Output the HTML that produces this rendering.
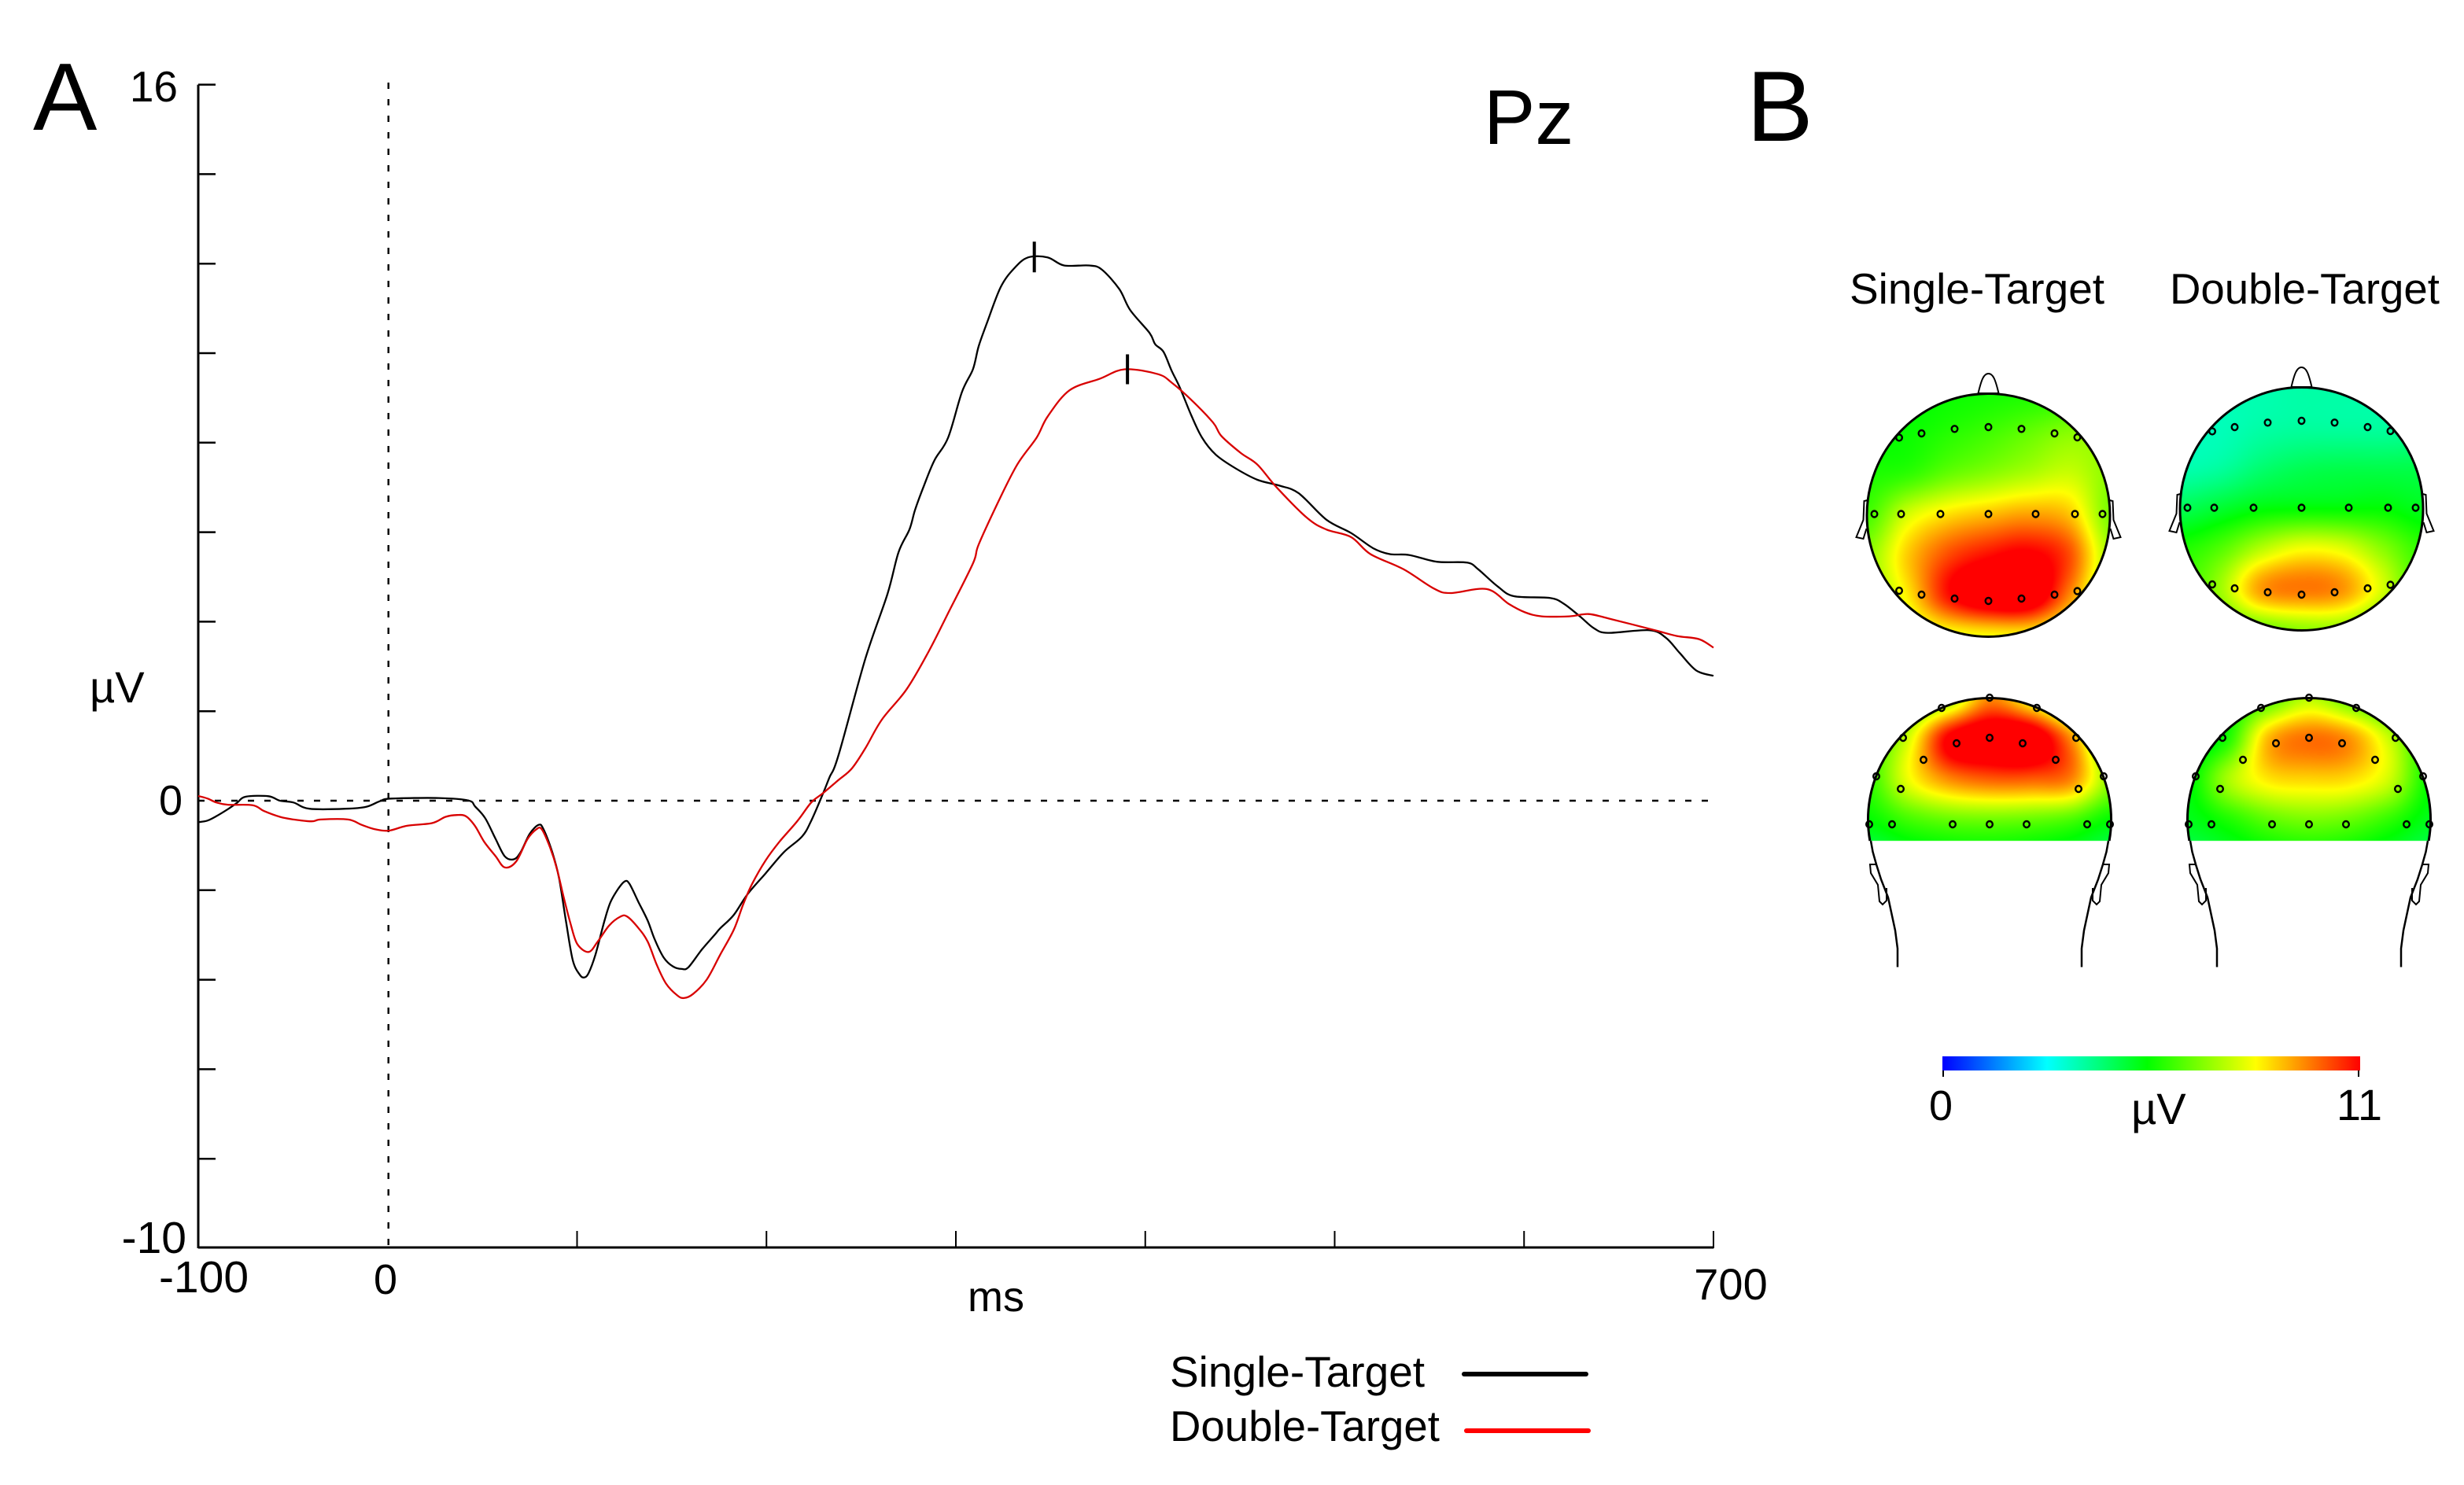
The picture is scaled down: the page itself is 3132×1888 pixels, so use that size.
<!DOCTYPE html>
<html lang="en">
<head>
<meta charset="utf-8">
<title>Pz ERP and topographic maps</title>
<style>
html,body{margin:0;padding:0;background:#fff;}
#stage{position:relative;width:3132px;height:1888px;overflow:hidden;background:#fff;}
canvas{position:absolute;display:block;}
svg{position:absolute;left:0;top:0;}
text{font-family:"Liberation Sans",sans-serif;fill:#000;}
</style>
</head>
<body>
<div id="stage">
<canvas id="map-st-top"></canvas>
<canvas id="map-dt-top"></canvas>
<canvas id="map-st-back"></canvas>
<canvas id="map-dt-back"></canvas>
<svg id="svg" width="3132" height="1888" viewBox="0 0 3132 1888">
  <defs>
    <linearGradient id="jet" x1="0" x2="1" y1="0" y2="0">
      <stop offset="0" stop-color="#0000ff"/>
      <stop offset="0.25" stop-color="#00ffff"/>
      <stop offset="0.49" stop-color="#00ff00"/>
      <stop offset="0.75" stop-color="#ffff00"/>
      <stop offset="1" stop-color="#ff0000"/>
    </linearGradient>
  </defs>
  <text x="42" y="165" font-size="122">A</text>
  <text x="2220" y="179" font-size="127">B</text>
  <text x="1886" y="183" font-size="98">Pz</text>
  <text x="226" y="129" font-size="55" text-anchor="end">16</text>
  <text x="232" y="1036" font-size="54" text-anchor="end">0</text>
  <text x="237" y="1593" font-size="57" text-anchor="end">-10</text>
  <text x="114" y="893" font-size="56">µV</text>
  <text x="259" y="1643" font-size="57" text-anchor="middle">-100</text>
  <text x="490" y="1645" font-size="54" text-anchor="middle">0</text>
  <text x="2200" y="1652" font-size="56" text-anchor="middle">700</text>
  <text x="1230" y="1667" font-size="54">ms</text>
  <text x="1487" y="1763" font-size="55">Single-Target</text>
  <line x1="1861" y1="1747" x2="2016" y2="1747" stroke="#000" stroke-width="6" stroke-linecap="round"/>
  <text x="1487" y="1832" font-size="54.6">Double-Target</text>
  <line x1="1864" y1="1819" x2="2019" y2="1819" stroke="#ff0000" stroke-width="6" stroke-linecap="round"/>
  <text x="2351" y="386" font-size="55">Single-Target</text>
  <text x="2758" y="386" font-size="54.6">Double-Target</text>
  <rect x="2469" y="1343" width="531" height="18" fill="url(#jet)"/>
  <line x1="2470" y1="1361" x2="2470" y2="1369" stroke="#000" stroke-width="2"/>
  <line x1="2998" y1="1361" x2="2998" y2="1369" stroke="#000" stroke-width="2"/>
  <text x="2467" y="1424" font-size="54" text-anchor="middle">0</text>
  <text x="2999" y="1424" font-size="56" text-anchor="middle">11</text>
  <text x="2709" y="1429" font-size="56">µV</text>
  <g id="chart"></g>
  <g id="heads"></g>
</svg>
</div>
<script>
// ---- ERP chart data (ms, µV) ----
const xTickValues = [-100, 0, 100, 200, 300, 400, 500, 600, 700];
const yTickValues = [16, 14, 12, 10, 8, 6, 4, 2, 0, -2, -4, -6, -8, -10];
const timesSingle = [-100,-95.2,-90.4,-84.4,-79.6,-74.9,-62.9,-56.9,-49.7,-41.3,-22.1,-11.3,-4.1,1.8,27,42.6,46.2,51.5,57,61.8,66.6,70.2,75,79.7,82.2,86.9,90.5,94.1,97.7,101.3,103.7,106.1,109.7,114.5,117.6,121.7,125.3,127.7,132.5,137.3,140.9,145.7,150.5,155.3,158.8,166,173.2,175.6,182.8,190,199.6,209.2,218.8,223.6,229.6,233.2,238,252.2,263.9,269.7,275.5,278.4,282.8,288.6,295.9,303.2,309,312,316.3,323.6,330.9,338.2,348.4,357.1,370.3,377,386.3,392.1,402.3,405.2,409.6,414,418.4,424.2,430,437.3,447.5,459.2,470.8,481,495.6,508.7,520.4,529.1,539.3,553.9,569.9,575.8,586,594.7,613.7,621,629.7,637,644.3,666.1,674.9,682.2,690.9,700];
const valuesSingle = [-0.48,-0.445,-0.345,-0.19,-0.05,0.09,0.1,0,-0.04,-0.18,-0.18,-0.135,-0.01,0.047,0.06,0.006,-0.13,-0.39,-0.855,-1.24,-1.31,-1.15,-0.74,-0.54,-0.63,-1.15,-1.73,-2.68,-3.56,-3.88,-3.95,-3.85,-3.44,-2.68,-2.27,-1.97,-1.8,-1.86,-2.27,-2.68,-3.09,-3.5,-3.7,-3.76,-3.72,-3.32,-2.97,-2.85,-2.55,-2.09,-1.62,-1.15,-0.8,-0.45,0.135,0.515,1.01,3.17,4.62,5.55,6.06,6.49,7,7.6,8.11,9.13,9.64,10.15,10.66,11.47,11.9,12.14,12.14,11.96,11.96,11.87,11.43,10.96,10.45,10.2,10.03,9.6,9.22,8.62,8.11,7.73,7.43,7.17,7.04,6.87,6.28,5.98,5.64,5.51,5.49,5.34,5.32,5.17,4.79,4.57,4.53,4.4,4.11,3.85,3.75,3.81,3.64,3.3,2.91,2.79];
const timesDouble = [-100,-95.2,-90.4,-84.4,-71.3,-65.3,-56.9,-49.7,-40.1,-35.3,-20.9,-13.7,-6.5,0.6,10.2,23.4,30.6,36.6,41.4,46.2,51,57,61.8,67.8,73.8,78.5,81.4,85.7,89.3,92.9,96.5,100.1,106.1,110.9,116.9,122.9,126.5,132.5,137.3,142.1,146.9,152.9,156.4,161.2,168.4,175.6,182.8,187.6,192.4,199.6,206.8,216.4,223.6,229.6,238,245.1,252.2,260.9,274,285.7,295.9,309,312,322.2,332.4,342.6,348.4,360,376.1,389.2,406.7,414,424.2,435.8,440.2,450.4,459.2,469.4,485.4,495.6,508.7,518.9,536.4,552.4,561.2,580.2,591.8,600.5,609.3,623.9,634.1,645.7,669,680.7,692.4,700];
const valuesDouble = [0.105,0.05,-0.04,-0.09,-0.1,-0.23,-0.36,-0.42,-0.46,-0.42,-0.42,-0.54,-0.64,-0.67,-0.56,-0.5,-0.36,-0.32,-0.35,-0.57,-0.92,-1.24,-1.49,-1.36,-0.86,-0.64,-0.64,-1.04,-1.51,-2.15,-2.74,-3.2,-3.38,-3.15,-2.79,-2.59,-2.59,-2.85,-3.15,-3.67,-4.08,-4.35,-4.41,-4.32,-4,-3.44,-2.88,-2.33,-1.86,-1.33,-0.92,-0.45,-0.04,0.16,0.46,0.72,1.17,1.81,2.49,3.34,4.19,5.3,5.72,6.66,7.51,8.11,8.58,9.17,9.43,9.64,9.53,9.34,8.96,8.45,8.15,7.77,7.51,7,6.32,6.06,5.89,5.51,5.17,4.74,4.64,4.73,4.4,4.21,4.12,4.12,4.17,4.06,3.81,3.68,3.61,3.42];
const peakSingle = [341, 12.14];
const peakDouble = [390.6, 9.64];

// ---- Topographic map data: scalp amplitude (µV) on a 7×7 grid, rows front→back, columns left→right ----
const fieldSingleTop = [
 [5.5,5.5,5.6,5.7,5.8,5.9,6],
 [5.5,5.6,5.9,6.2,6.6,7,7],
 [5.8,6,6.6,7,7.4,7.7,7],
 [6.2,7.8,8.6,9,9.3,8.9,6.8],
 [7,8.8,10.2,10.9,11.2,10.2,7.3],
 [7,8.4,10.8,12,12,9.5,7],
 [7,7.5,8,8.2,8.2,7.5,7]];
const fieldDoubleTop = [
 [3.6,3.6,3.6,3.7,3.7,3.7,3.8],
 [3.5,3.5,3.7,3.8,3.8,3.8,3.9],
 [3.6,3.8,4.3,4.6,4.7,4.7,4.7],
 [4.6,5,5.4,5.5,5.5,5.5,5.2],
 [5.8,6.4,7.5,8.2,8,7,6],
 [6,7.2,9.3,9.7,9.4,7.8,6],
 [6,6.2,6.6,7,7,6.2,6]];
const fieldSingleBack = [
 [6,6,7,9.5,8,6,6],
 [6,7.8,11.2,12,12,9.5,6],
 [6,8.1,9.5,10,10,9.6,7],
 [5.5,6.2,6.6,6.7,6.6,6.3,5.5],
 [4.5,5,5.2,5.3,5.2,5,4.5],
 [4.5,5,5,5,5,5,4.5],
 [4.5,5,5,5,5,5,4.5]];
const fieldDoubleBack = [
 [5.5,5.5,6.3,7.5,6.5,5.5,5.5],
 [5,5.8,9,9.8,9.4,7.6,5.5],
 [5.3,7.3,8.5,8.7,8.6,7.7,5.5],
 [5.2,5.8,6.5,6.8,6.6,6,5.2],
 [4.5,5,5.3,5.4,5.3,5,4.5],
 [4.5,5,5,5,5,5,4.5],
 [4.5,5,5,5,5,5,4.5]];
const colorMax = 11;

const NS = 'http://www.w3.org/2000/svg';
function mk(tag, parent, attrs) {
  const el = document.createElementNS(NS, tag);
  for (const k in attrs) el.setAttribute(k, attrs[k]);
  parent.appendChild(el);
  return el;
}

// ---- axis functions ----
function xScale(t) { return 252 + (t + 100) * 2.4075; }
function yScale(v) { return 1018 - v * 56.9; }

const chart = document.getElementById('chart');

const xAxis = mk('line', chart, {x1: xScale(-100), y1: yScale(-10) - 1, x2: xScale(700), y2: yScale(-10) - 1, stroke: '#000', 'stroke-width': 3});


const yAxis = mk('line', chart, {x1: xScale(-100), y1: yScale(16), x2: xScale(-100), y2: yScale(-10), stroke: '#000', 'stroke-width': 3});



yTickValues.forEach(function (v) {
  if (v === 0 || v === -10) return;
  const t = mk('line', chart, {x1: xScale(-100), y1: yScale(v), x2: xScale(-100) + 22, y2: yScale(v), stroke: '#000', 'stroke-width': 2.5});
  
  
});
xTickValues.forEach(function (v) {
  if (v <= 0) return;
  const t = mk('line', chart, {x1: xScale(v), y1: yScale(-10), x2: xScale(v), y2: yScale(-10) - 22, stroke: '#000', 'stroke-width': 2});
  
  
});

const zeroH = mk('line', chart, {x1: xScale(-100), y1: yScale(0), x2: xScale(700), y2: yScale(0), stroke: '#000', 'stroke-width': 2.5, 'stroke-dasharray': '8 13'});


const zeroV = mk('line', chart, {x1: xScale(0) + 1, y1: 105, x2: xScale(0) + 1, y2: yScale(-10), stroke: '#000', 'stroke-width': 2.5, 'stroke-dasharray': '8 13'});



function tracePath(ts, vs) {
  const pts = ts.map(function (t, i) { return [xScale(t), yScale(vs[i])]; });
  let d = 'M' + pts[0][0].toFixed(1) + ',' + pts[0][1].toFixed(1);
  for (let i = 0; i < pts.length - 1; i++) {
    const p0 = pts[Math.max(0, i - 1)], p1 = pts[i], p2 = pts[i + 1], p3 = pts[Math.min(pts.length - 1, i + 2)];
    const c1x = p1[0] + (p2[0] - p0[0]) / 6, c1y = p1[1] + (p2[1] - p0[1]) / 6;
    const c2x = p2[0] - (p3[0] - p1[0]) / 6, c2y = p2[1] - (p3[1] - p1[1]) / 6;
    d += ' C' + c1x.toFixed(1) + ',' + c1y.toFixed(1) + ' ' + c2x.toFixed(1) + ',' + c2y.toFixed(1) + ' ' + p2[0].toFixed(1) + ',' + p2[1].toFixed(1);
  }
  return d;
}
const lineSingle = mk('path', chart, {d: tracePath(timesSingle, valuesSingle), fill: 'none', stroke: '#000', 'stroke-width': 2.3, 'stroke-linejoin': 'round'});


const lineDouble = mk('path', chart, {d: tracePath(timesDouble, valuesDouble), fill: 'none', stroke: '#d80000', 'stroke-width': 2.3, 'stroke-linejoin': 'round'});



const markSingle = mk('line', chart, {x1: xScale(peakSingle[0]) + 1, y1: yScale(peakSingle[1]) - 20, x2: xScale(peakSingle[0]) + 1, y2: yScale(peakSingle[1]) + 19, stroke: '#000', 'stroke-width': 4});


const markDouble = mk('line', chart, {x1: xScale(peakDouble[0]), y1: yScale(peakDouble[1]) - 19, x2: xScale(peakDouble[0]), y2: yScale(peakDouble[1]) + 19, stroke: '#000', 'stroke-width': 4});



// ---- topographic maps ----
const jetStops = [[0,0,0,255],[0.25,0,255,255],[0.5,0,255,0],[0.75,255,255,0],[1,255,0,0]];
function jet(t) {
  t = Math.max(0, Math.min(1, t));
  for (let i = 1; i < jetStops.length; i++) {
    if (t <= jetStops[i][0]) {
      const a = jetStops[i - 1], b = jetStops[i];
      const f = (t - a[0]) / (b[0] - a[0]);
      return [a[1] + (b[1] - a[1]) * f, a[2] + (b[2] - a[2]) * f, a[3] + (b[3] - a[3]) * f];
    }
  }
  return [255, 0, 0];
}
function cr(p0, p1, p2, p3, t) {
  return 0.5 * (2 * p1 + (p2 - p0) * t + (2 * p0 - 5 * p1 + 4 * p2 - p3) * t * t + (3 * p1 - p0 - 3 * p2 + p3) * t * t * t);
}
function sample(g, u, v) {
  const n = g.length - 1;
  const fx = Math.max(0, Math.min(n - 1e-6, (u + 1) * n / 2));
  const fy = Math.max(0, Math.min(n - 1e-6, (v + 1) * n / 2));
  const ix = Math.floor(fx), iy = Math.floor(fy);
  const row = [];
  for (let j = -1; j <= 2; j++) {
    const r = g[Math.max(0, Math.min(n, iy + j))];
    row.push(cr(r[Math.max(0, ix - 1)], r[ix], r[Math.min(n, ix + 1)], r[Math.min(n, ix + 2)], fx - ix));
  }
  return cr(row[0], row[1], row[2], row[3], fy - iy);
}
const R = 154.5;
function paintMap(id, field, cx, cy, cutDy) {
  const cv = document.getElementById(id);
  const x0 = Math.floor(cx - R) - 1, y0 = Math.floor(cy - R) - 1;
  const w = Math.ceil(2 * R) + 3, h = Math.ceil(2 * R) + 3;
  cv.width = w; cv.height = h;
  cv.style.left = x0 + 'px';
  cv.style.top = y0 + 'px';
  const ctx = cv.getContext('2d');
  const img = ctx.createImageData(w, h);
  for (let y = 0; y < h; y++) {
    for (let x = 0; x < w; x++) {
      const dx = x + x0 + 0.5 - cx, dy = y + y0 + 0.5 - cy;
      if (dx * dx + dy * dy > R * R) continue;
      if (dy > cutDy) continue;
      const c = jet(sample(field, dx / R, dy / R) / colorMax);
      const o = (y * w + x) * 4;
      img.data[o] = c[0]; img.data[o + 1] = c[1]; img.data[o + 2] = c[2]; img.data[o + 3] = 255;
    }
  }
  ctx.putImageData(img, 0, 0);
}
paintMap('map-st-top', fieldSingleTop, 2527.5, 655, 1000);
paintMap('map-dt-top', fieldDoubleTop, 2925.5, 647, 1000);
paintMap('map-st-back', fieldSingleBack, 2529, 1042, 27);
paintMap('map-dt-back', fieldDoubleBack, 2935, 1042, 27);

const heads = document.getElementById('heads');
const topSites = [[-113.5,-98.6],[-85,-104],[-43,-109.7],[0,-112],[42,-109.7],[84,-104],[113,-99],
  [-145,-1.5],[-111,-1.5],[-61,-1.5],[0,-1.5],[60,-1.5],[110,-1.5],[145,-1.5],
  [-113.5,96],[-85,101],[-43,106],[0,109],[42,106],[84,101],[113,96.5]];
const backSites = [[0,-155],[-61,-142],[60,-142],[-110,-104],[110,-104],[-42,-97],[0,-104],[42,-97],[-84,-76],[84,-76],
  [-144,-55],[145,-55],[-113,-39],[113,-39],[-153,6],[-124,6],[-47,6],[0,6],[47,6],[124,6],[153,6]];
const stroke = {fill: 'none', stroke: '#000', 'stroke-width': 3};

function sites(g, list) {
  list.forEach(function (p) {
    const e = mk('ellipse', g, {cx: p[0], cy: p[1], rx: 3.8, ry: 4, fill: 'none', stroke: '#000', 'stroke-width': 2.4});
    
    
  });
}
function topHead(name, cx, cy) {
  const g = mk('g', heads, {transform: 'translate(' + cx + ',' + cy + ')'});
  
  
  mk('circle', g, Object.assign({cx: 0, cy: 0, r: R}, stroke));
  mk('path', g, {d: 'M-13,-155 C-9,-172 -6,-180 0,-180 C6,-180 9,-172 13,-155 Z', fill: '#fff', stroke: '#000', 'stroke-width': 2});
  mk('path', g, {d: 'M-154,-19 L-158,-18 L-159,6 L-168,28 L-159,30 L-155,17', fill: 'none', stroke: '#000', 'stroke-width': 2});
  mk('path', g, {d: 'M154,-19 L158,-18 L159,6 L168,28 L159,30 L155,17', fill: 'none', stroke: '#000', 'stroke-width': 2});
  sites(g, topSites);
}
function backHead(name, cx, cy) {
  const g = mk('g', heads, {transform: 'translate(' + cx + ',' + cy + ')'});
  
  
  const a = Math.sqrt(R * R - 27 * 27);
  mk('path', g, Object.assign({d: 'M' + (-a) + ',27 A' + R + ',' + R + ' 0 1 1 ' + a + ',27'}, stroke));
  [-1, 1].forEach(function (s) {
    const neck = [[151,27],[148.5,41],[144,57],[138,76],[129,99],[120,141],[117,164],[117,187.5]];
    mk('polyline', g, {points: neck.map(function (p) { return s * p[0] + ',' + p[1]; }).join(' '), fill: 'none', stroke: '#000', 'stroke-width': 2.5});
    const ear = [[143,57],[152,57],[151,68],[142,83],[140,104],[136,108],[131,103],[131,87]];
    mk('polyline', g, {points: ear.map(function (p) { return s * p[0] + ',' + p[1]; }).join(' '), fill: 'none', stroke: '#000', 'stroke-width': 2});
  });
  sites(g, backSites);
}
topHead('head-single-target-top', 2527.5, 655);
topHead('head-double-target-top', 2925.5, 647);
backHead('head-single-target-back', 2529, 1042);
backHead('head-double-target-back', 2935, 1042);
</script>
</body>
</html>
